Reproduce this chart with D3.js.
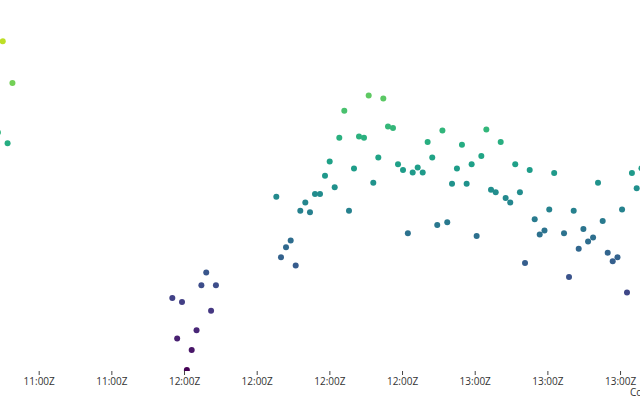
<!DOCTYPE html>
<html>
<head>
<meta charset="utf-8">
<script src="https://cdn.jsdelivr.net/npm/d3@7"></script>
<style>
  html, body { margin: 0; padding: 0; background: #fff; }
  svg { display: block; font-family: "Open Sans", sans-serif; }
</style>
</head>
<body>
<div class="chart"></div>
<script>
// observation times (UTC) and measured values
var times = [
  "11:21:35", "11:22:35", "11:23:35", "11:24:35",
  "11:57:35", "11:58:35", "11:59:35", "12:00:35", "12:01:35", "12:02:35",
  "12:03:35", "12:04:35", "12:05:35", "12:06:35",
  "12:19:03", "12:20:01", "12:21:03", "12:22:01", "12:23:03", "12:24:00",
  "12:25:02", "12:26:00", "12:27:02", "12:28:04", "12:29:06", "12:30:04",
  "12:31:06", "12:32:03", "12:33:05", "12:34:03", "12:35:05", "12:36:07",
  "12:37:09", "12:38:07", "12:39:04", "12:40:06", "12:41:08", "12:42:06",
  "12:43:08", "12:44:10", "12:45:12", "12:46:12", "12:47:12", "12:48:14",
  "12:49:16", "12:50:17", "12:51:14", "12:52:16", "12:53:20", "12:54:20",
  "12:55:19", "12:56:20", "12:57:22", "12:58:20", "12:59:22", "13:00:24",
  "13:01:22", "13:02:24", "13:03:22", "13:04:20", "13:05:22", "13:06:23",
  "13:07:20", "13:08:22", "13:09:20", "13:10:23", "13:11:21", "13:12:23",
  "13:13:25", "13:14:24", "13:15:23", "13:16:24", "13:18:26", "13:19:28",
  "13:20:26", "13:21:28", "13:22:26", "13:23:24", "13:24:26", "13:25:27",
  "13:26:25", "13:27:27", "13:28:29", "13:29:28", "13:30:25", "13:31:26",
  "13:32:27", "13:33:26", "13:34:25"
];
var values = [
  65.1, 90.1, 62.1, 78.6,
  19.7, 8.6, 18.6, 0, 5.5, 10.9,
  23.2, 26.7, 16.2, 23.2,
  47.5, 30.9, 33.6, 35.5, 28.6, 43.6,
  45.9, 43.2, 48.2, 48.2, 53.2, 57.1,
  50.1, 63.6, 71.0, 43.6, 55.2, 64.0,
  63.6, 75.2, 51.3, 58.2, 74.4, 66.7,
  66.3, 56.4, 54.8, 37.5, 54.1, 55.5,
  54.1, 62.5, 58.2, 39.7, 65.6, 40.5,
  51.0, 55.2, 61.7, 51.0, 56.4, 36.7,
  58.6, 65.9, 49.4, 48.7, 62.5, 47.1,
  45.9, 56.4, 48.7, 29.3, 54.8, 41.3,
  37.1, 38.2, 44.0, 54.0, 37.5, 25.5,
  43.6, 33.2, 38.6, 35.2, 36.3, 51.3,
  40.8, 32.1, 29.8, 30.9, 44.0, 21.2,
  54.0, 49.8, 55.3
];
var timeExtent = ["11:22:01", "13:34:07"];
var valueExtent = [0, 100];
var axisTitle = "Concentration";

var width = 640, height = 400;
var axisY = 371;

var parseTime = d3.utcParse("%H:%M:%S");

var svg = d3.select('div.chart').append('svg')
    .attr('width', width)
    .attr('height', height);

var xScale = d3.scaleUtc()
    .domain(timeExtent.map(parseTime))
    .range([0, width]);

var yScale = d3.scaleLinear()
    .domain(valueExtent)
    .range([370, 5]);

var color = d3.scaleSequential(d3.interpolateViridis)
    .domain(valueExtent);

svg.append('clipPath')
    .attr('id', 'plot-clip')
  .append('rect')
    .attr('x', 0)
    .attr('y', 0)
    .attr('width', width)
    .attr('height', axisY);

var xAxis = d3.axisBottom(xScale)
    .ticks(d3.utcMinute.every(15))
    .tickFormat(d3.utcFormat("%H:00Z"))
    .tickSize(4)
    .tickSizeOuter(0);

var xAxis_g = svg.append('g')
    .attr('class', 'x axis')
    .attr('transform', 'translate(0,' + axisY + ')')
    .call(xAxis);

xAxis_g.select('.domain').remove();
xAxis_g.selectAll('line').attr('stroke', '#444');
xAxis_g.selectAll('text')
    .attr('fill', '#333')
    .style('font-size', '10px')
    .style('font-family', '"Open Sans", sans-serif');

// axis title sits at the right edge and runs off the page, as in the original
svg.append('text')
    .attr('x', 630)
    .attr('y', 396)
    .attr('fill', '#333')
    .style('font-size', '10px')
    .text(axisTitle);

var data = times.map(function (t, i) {
  return { time: parseTime(t), value: values[i] };
});

svg.append('g')
    .attr('clip-path', 'url(#plot-clip)')
  .selectAll('circle.dot')
    .data(data)
    .enter()
    .append('circle')
    .attr('class', 'dot')
    .attr('cx', function (d) { return xScale(d.time); })
    .attr('cy', function (d) { return yScale(d.value); })
    .attr('r', 3)
    .attr('fill', function (d) { return color(d.value); });
</script>
</body>
</html>
